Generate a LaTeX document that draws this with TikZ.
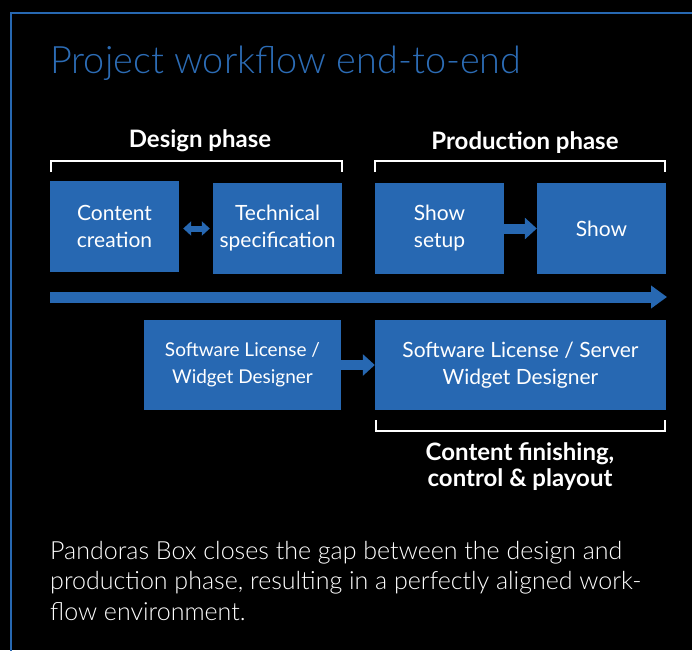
\documentclass[tikz,border=0pt]{standalone}
\usepackage{fontspec}
\setmainfont{Lato}
\IfFontExistsTF{Lato Light}{\newfontfamily\lightfont{Lato Light}}{\newfontfamily\lightfont{Lato}}
\usetikzlibrary{arrows.meta}
\definecolor{pbblue}{RGB}{39,104,178}
\definecolor{titleblue}{RGB}{44,108,181}
\begin{document}
\begin{tikzpicture}[x=1pt,y=-1pt,
  box/.style={fill=pbblue, text=white, inner sep=0pt, align=center,
    font=\fontsize{21}{27}\selectfont},
  smallbox/.style={box, font=\fontsize{19}{27}\selectfont},
  phase/.style={text=white, font=\bfseries\fontsize{24}{27}\selectfont, align=center, inner sep=0pt},
  bracket/.style={draw=white, line width=2pt},
  flow/.style={draw=pbblue, line width=10pt, -{Triangle[length=12pt,width=21pt]}},
  dflow/.style={draw=pbblue, line width=6pt, {Triangle[length=8pt,width=14pt]}-{Triangle[length=8pt,width=14pt]}},
]
\fill[black] (0,0) rectangle (692,650);
\useasboundingbox (0,0) rectangle (692,650);
\draw[pbblue, line width=2.5pt] (692,13) -- (11,13) -- (11,651);

\node[anchor=base west, text=titleblue, inner sep=0pt, font=\lightfont\fontsize{37.8}{40}\selectfont] (title) at (50,74) {Project workflow end-to-end};

% phase labels and brackets
\node[phase] (design) at (200,141) {Design phase};
\node[phase] (production) at (525,143) {Production phase};
\coordinate (db1) at (51,172); \coordinate (db2) at (342,172);
\coordinate (pb1) at (375,172); \coordinate (pb2) at (665,172);
\draw[bracket] (db1) -- ++(0,-11) -| (db2);
\draw[bracket] (pb1) -- ++(0,-11) -| (pb2);

% top boxes
\node[box, minimum width=129pt, minimum height=91pt] (cc) at (114.5,226.5) {Content\\creation};
\node[box, minimum width=129pt, minimum height=91pt] (ts) at (277.5,228.5) {Technical\\specification};
\node[box, minimum width=129pt, minimum height=91pt] (ss) at (439.5,228.5) {Show\\setup};
\node[box, minimum width=129pt, minimum height=91pt] (sh) at (601.5,228.5) {Show};

\draw[dflow, shorten <=4pt, shorten >=3pt] (cc.east |- ts.west) -- (ts.west);
\draw[flow] (ss.east) -- (sh.west);

% long timeline arrow
\coordinate (t1) at (50,297);
\coordinate (t2) at (667,297);
\draw[draw=pbblue, line width=11pt, -{Triangle[length=16pt,width=22pt]}] (t1) -- (t2);

% bottom boxes
\node[smallbox, minimum width=197pt, minimum height=90pt] (sl) at (242.5,365) {Software License /\\Widget Designer};
\node[box, minimum width=291pt, minimum height=90pt] (sls) at (520.5,365) {Software License / Server\\Widget Designer};
\draw[flow] (sl.east) -- (sls.west);

% bottom bracket
\coordinate (bb1) at (376,420); \coordinate (bb2) at (665,420);
\draw[bracket] (bb1) -- ++(0,11) -| (bb2);
\node[phase, font=\bfseries\fontsize{24}{26}\selectfont] (finish) at (520,467) {Content finishing,\\control \& playout};

% paragraph
\node[anchor=base west, text=white, inner sep=0pt, align=left, font=\lightfont\fontsize{25}{30.5}\selectfont] (para) at (50,620)
 {Pandoras Box closes the gap between the design and\\production phase, resulting in a perfectly aligned work-\\flow environment.};
\end{tikzpicture}
\end{document}
